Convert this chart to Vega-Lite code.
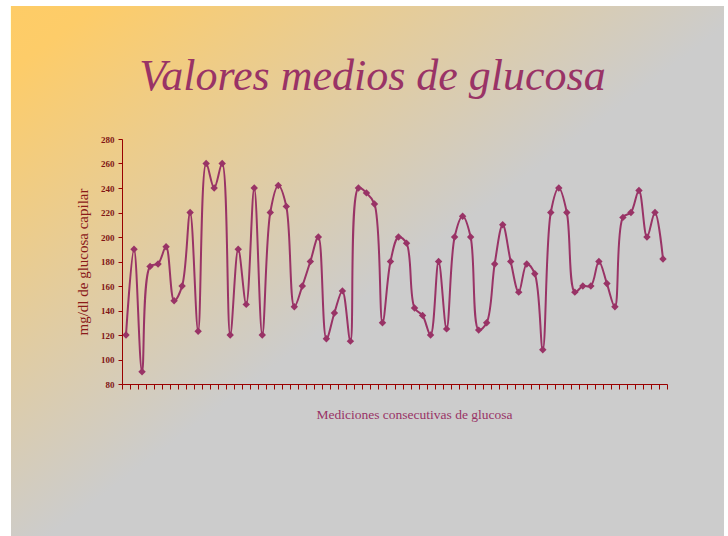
{
  "$schema": "https://vega.github.io/schema/vega-lite/v6.json",
  "width": 545,
  "height": 245,
  "autosize": {"type": "none"},
  "padding": {"left": 122, "top": 139, "right": 61, "bottom": 152},
  "background": "white",
  "config": {"view": {"stroke": null}},
  "title": {
    "text": "Valores medios de glucosa",
    "font": "Liberation Serif, Times New Roman, serif",
    "fontStyle": "italic",
    "fontWeight": "normal",
    "fontSize": 44,
    "color": "#993366",
    "anchor": "middle",
    "frame": "group",
    "baseline": "alphabetic",
    "dx": -22,
    "offset": -128,
    "zindex": 2
  },
  "data": {
    "values": [
      {"n": 1, "v": 120}, {"n": 2, "v": 190}, {"n": 3, "v": 90}, {"n": 4, "v": 176},
      {"n": 5, "v": 178}, {"n": 6, "v": 192}, {"n": 7, "v": 148}, {"n": 8, "v": 160},
      {"n": 9, "v": 220}, {"n": 10, "v": 123}, {"n": 11, "v": 260}, {"n": 12, "v": 240},
      {"n": 13, "v": 260}, {"n": 14, "v": 120}, {"n": 15, "v": 190}, {"n": 16, "v": 145},
      {"n": 17, "v": 240}, {"n": 18, "v": 120}, {"n": 19, "v": 220}, {"n": 20, "v": 242},
      {"n": 21, "v": 225}, {"n": 22, "v": 143}, {"n": 23, "v": 160}, {"n": 24, "v": 180},
      {"n": 25, "v": 200}, {"n": 26, "v": 117}, {"n": 27, "v": 138}, {"n": 28, "v": 156},
      {"n": 29, "v": 115}, {"n": 30, "v": 240}, {"n": 31, "v": 236}, {"n": 32, "v": 227},
      {"n": 33, "v": 130}, {"n": 34, "v": 180}, {"n": 35, "v": 200}, {"n": 36, "v": 195},
      {"n": 37, "v": 142}, {"n": 38, "v": 136}, {"n": 39, "v": 120}, {"n": 40, "v": 180},
      {"n": 41, "v": 125}, {"n": 42, "v": 200}, {"n": 43, "v": 217}, {"n": 44, "v": 200},
      {"n": 45, "v": 124}, {"n": 46, "v": 130}, {"n": 47, "v": 178}, {"n": 48, "v": 210},
      {"n": 49, "v": 180}, {"n": 50, "v": 155}, {"n": 51, "v": 178}, {"n": 52, "v": 170},
      {"n": 53, "v": 108}, {"n": 54, "v": 220}, {"n": 55, "v": 240}, {"n": 56, "v": 220},
      {"n": 57, "v": 155}, {"n": 58, "v": 160}, {"n": 59, "v": 160}, {"n": 60, "v": 180},
      {"n": 61, "v": 162}, {"n": 62, "v": 143}, {"n": 63, "v": 216}, {"n": 64, "v": 220},
      {"n": 65, "v": 238}, {"n": 66, "v": 200}, {"n": 67, "v": 220}, {"n": 68, "v": 182}
    ]
  },
  "layer": [
    {
      "mark": {
        "type": "rect",
        "clip": false,
        "fill": {
          "gradient": "linear",
          "x1": 0, "y1": 0, "x2": 1, "y2": 1,
          "stops": [
            {"offset": 0, "color": "#FECC66"},
            {"offset": 0.06, "color": "#FDCC69"},
            {"offset": 0.52, "color": "#CCCCCC"},
            {"offset": 1, "color": "#CCCCCC"}
          ]
        }
      },
      "encoding": {
        "x": {"datum": -13.35, "type": "quantitative"},
        "x2": {"datum": 75.61},
        "y": {"datum": 388.6, "type": "quantitative"},
        "y2": {"datum": -50}
      }
    },
    {
      "mark": {"type": "line", "interpolate": "catmull-rom", "color": "#993366", "strokeWidth": 2},
      "encoding": {
        "x": {
          "field": "n", "type": "quantitative",
          "scale": {"domain": [0.5, 68.5], "nice": false, "zero": false},
          "axis": {
            "zindex": 1,
            "tickCount": 200,
            "values": [0.5,1.5,2.5,3.5,4.5,5.5,6.5,7.5,8.5,9.5,10.5,11.5,12.5,13.5,14.5,15.5,16.5,17.5,18.5,19.5,20.5,21.5,22.5,23.5,24.5,25.5,26.5,27.5,28.5,29.5,30.5,31.5,32.5,33.5,34.5,35.5,36.5,37.5,38.5,39.5,40.5,41.5,42.5,43.5,44.5,45.5,46.5,47.5,48.5,49.5,50.5,51.5,52.5,53.5,54.5,55.5,56.5,57.5,58.5,59.5,60.5,61.5,62.5,63.5,64.5,65.5,66.5,67.5,68.5],
            "labels": false,
            "grid": false,
            "domainColor": "#990000",
            "domainWidth": 1,
            "tickColor": "#990000",
            "tickSize": 5,
            "title": "Mediciones consecutivas de glucosa",
            "titleFont": "Liberation Serif",
            "titleFontSize": 13.5,
            "titleFontWeight": "normal",
            "titleColor": "#993366",
            "titlePadding": 18,
            "titleX": 292
          }
        },
        "y": {
          "field": "v", "type": "quantitative",
          "scale": {"domain": [80, 280], "nice": false, "zero": false},
          "axis": {
            "zindex": 1,
            "tickCount": 50,
            "labelOverlap": false,
            "values": [80,100,120,140,160,180,200,220,240,260,280],
            "grid": false,
            "domainColor": "#990000",
            "domainWidth": 1,
            "tickColor": "#990000",
            "tickSize": 4,
            "labelFont": "Liberation Serif",
            "labelFontWeight": "bold",
            "labelFontSize": 9,
            "labelColor": "#801515",
            "labelPadding": 4,
            "title": "mg/dl de glucosa capilar",
            "titleFont": "Liberation Serif",
            "titleFontSize": 15,
            "titleFontWeight": "normal",
            "titleColor": "#8B1A1A",
            "titlePadding": 10
          }
        }
      }
    },
    {
      "mark": {"type": "point", "shape": "diamond", "filled": true, "color": "#993366", "size": 55, "opacity": 1},
      "encoding": {
        "x": {"field": "n", "type": "quantitative"},
        "y": {"field": "v", "type": "quantitative"}
      }
    }
  ]
}
